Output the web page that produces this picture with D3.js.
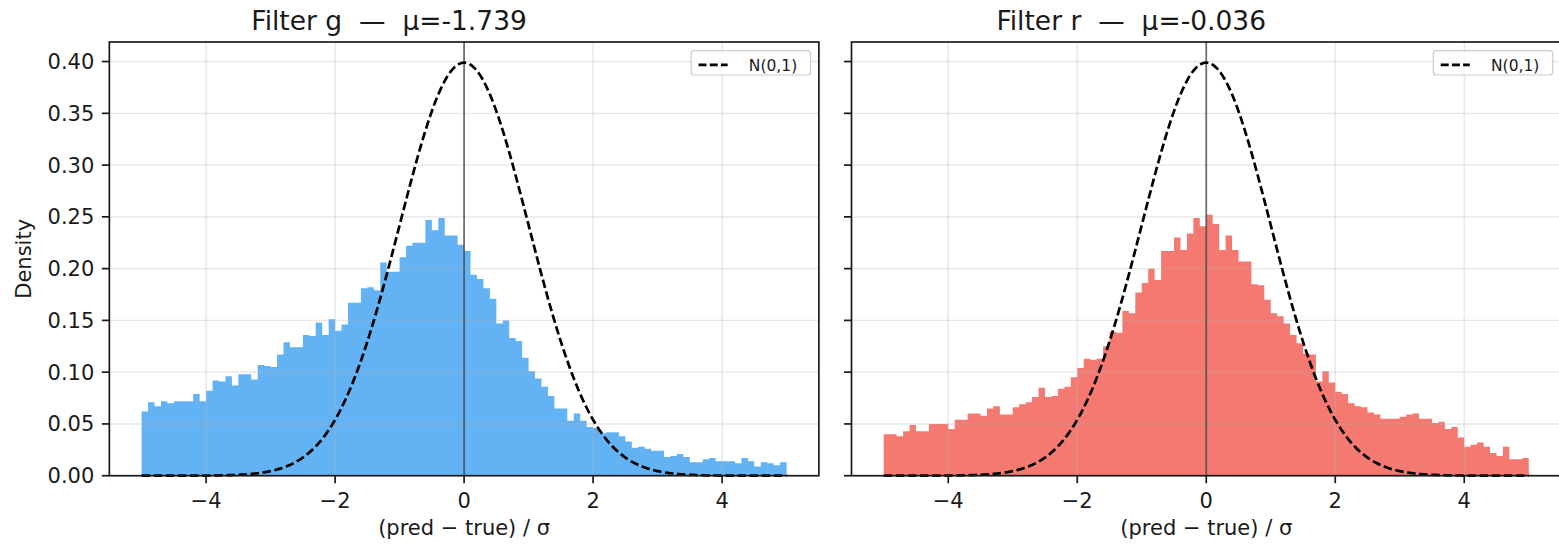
<!DOCTYPE html>
<html>
<head>
<meta charset="utf-8">
<script src="https://cdn.jsdelivr.net/npm/d3@7"></script>
<style>
  body { margin: 0; background: #fff; }
  svg { display: block; }
  text { font-family: "DejaVu Sans", sans-serif; fill: #1a1a1a; }
</style>
</head>
<body>
<svg id="chart" width="1559" height="544"></svg>
<script>
// Normalised residual histograms, one panel per filter
const filterNames = ["g", "r"];
const filterMeans = [-1.739, -0.036];
const filterColors = ["#63b3f4", "#f47a71"];

// 100 bins of width 0.1 spanning [-5, 5]
const binCount = 100;
const binLo = -5, binHi = 5;

const densityG = [
  0.062, 0.071, 0.067, 0.072, 0.070, 0.072, 0.072, 0.072, 0.079, 0.072,
  0.082, 0.092, 0.091, 0.096, 0.087, 0.098, 0.098, 0.093, 0.107, 0.106,
  0.105, 0.117, 0.129, 0.124, 0.124, 0.136, 0.135, 0.148, 0.136, 0.151,
  0.140, 0.146, 0.167, 0.167, 0.181, 0.182, 0.179, 0.206, 0.197, 0.197,
  0.211, 0.222, 0.225, 0.225, 0.247, 0.237, 0.249, 0.232, 0.232, 0.223,
  0.217, 0.194, 0.190, 0.181, 0.171, 0.147, 0.150, 0.133, 0.130, 0.114,
  0.101, 0.094, 0.086, 0.077, 0.065, 0.065, 0.053, 0.060, 0.053, 0.047,
  0.046, 0.041, 0.042, 0.042, 0.038, 0.033, 0.027, 0.028, 0.026, 0.024,
  0.024, 0.018, 0.019, 0.021, 0.018, 0.013, 0.013, 0.016, 0.017, 0.014,
  0.014, 0.014, 0.012, 0.017, 0.014, 0.009, 0.013, 0.012, 0.010, 0.013
];

const densityR = [
  0.040, 0.040, 0.038, 0.043, 0.049, 0.043, 0.043, 0.050, 0.050, 0.050,
  0.045, 0.054, 0.054, 0.060, 0.060, 0.058, 0.065, 0.067, 0.059, 0.059,
  0.066, 0.069, 0.071, 0.076, 0.085, 0.076, 0.077, 0.084, 0.086, 0.095,
  0.104, 0.113, 0.112, 0.113, 0.125, 0.139, 0.138, 0.159, 0.157, 0.177,
  0.186, 0.200, 0.189, 0.217, 0.217, 0.230, 0.218, 0.234, 0.249, 0.241,
  0.252, 0.243, 0.218, 0.232, 0.218, 0.207, 0.207, 0.185, 0.184, 0.170,
  0.157, 0.154, 0.147, 0.136, 0.128, 0.118, 0.117, 0.091, 0.101, 0.090,
  0.081, 0.079, 0.070, 0.067, 0.066, 0.061, 0.059, 0.055, 0.055, 0.055,
  0.057, 0.059, 0.060, 0.055, 0.055, 0.051, 0.052, 0.045, 0.047, 0.037,
  0.028, 0.030, 0.032, 0.028, 0.022, 0.019, 0.028, 0.016, 0.016, 0.017
];

const xTicks = [-4, -2, 0, 2, 4];
const xTickLabels = ["\u22124", "\u22122", "0", "2", "4"];
const yTicks = [0, 0.05, 0.10, 0.15, 0.20, 0.25, 0.30, 0.35, 0.40];
const yTickLabels = ["0.00", "0.05", "0.10", "0.15", "0.20", "0.25", "0.30", "0.35", "0.40"];

const xLabel = "(pred \u2212 true) / \u03c3";
const yLabel = "Density";
const legendLabel = "N(0,1)";

// standard normal reference density
const normalPdf = x => Math.exp(-0.5 * x * x) / Math.sqrt(2 * Math.PI);

// ---- layout ----
const svg = d3.select("#chart");
svg.append("rect").attr("width", 1559).attr("height", 544).attr("fill", "#fff");

const plotTop = 42, plotBottom = 475.7;
const panels = [
  { left: 109.35, right: 818.85, data: densityG, showYLabels: true },
  { left: 851.5, right: 1561.0, data: densityR, showYLabels: false }
];

const yMax = normalPdf(0) * 1.05;
const y = d3.scaleLinear().domain([0, yMax]).range([plotBottom, plotTop]);

const binEdges = d3.range(binCount + 1).map(i => binLo + (binHi - binLo) * i / binCount);
const curveXs = d3.range(0, 501).map(i => binLo + (binHi - binLo) * i / 500);

const tickLen = 7.5, tickPad = 7.5;
const ink = "#1a1a1a";

panels.forEach((p, k) => {
  const x = d3.scaleLinear().domain([-5.5, 5.5]).range([p.left, p.right]);
  const g = svg.append("g");

  // histogram drawn as one stepped, filled outline
  const steps = p.data.map((v, i) => ({ x: binEdges[i], v }));
  steps.push({ x: binEdges[binCount], v: p.data[binCount - 1] });
  const area = d3.area()
    .x(d => x(d.x))
    .y0(y(0))
    .y1(d => y(d.v))
    .curve(d3.curveStepAfter);
  g.append("path")
    .datum(steps)
    .attr("d", area)
    .attr("fill", filterColors[k]);

  // grid lines
  const grid = g.append("g")
    .attr("stroke", "#b0b0b0")
    .attr("stroke-opacity", 0.32)
    .attr("stroke-width", 1.4);
  grid.selectAll("line.gx").data(xTicks).join("line")
    .attr("x1", d => x(d)).attr("x2", d => x(d))
    .attr("y1", plotTop).attr("y2", plotBottom);
  grid.selectAll("line.gy").data(yTicks).join("line")
    .attr("x1", p.left).attr("x2", p.right)
    .attr("y1", d => y(d)).attr("y2", d => y(d));

  // zero reference line
  g.append("line")
    .attr("x1", x(0)).attr("x2", x(0))
    .attr("y1", plotTop).attr("y2", plotBottom)
    .attr("stroke", "#3a3a3a").attr("stroke-opacity", 0.7)
    .attr("stroke-width", 1.8);

  // N(0,1) curve
  const line = d3.line().x(d => x(d)).y(d => y(normalPdf(d)));
  g.append("path")
    .datum(curveXs)
    .attr("d", line)
    .attr("fill", "none")
    .attr("stroke", "#000")
    .attr("stroke-width", 2.7)
    .attr("stroke-dasharray", "8.5,3.6");

  // spines
  g.append("rect")
    .attr("x", p.left).attr("y", plotTop)
    .attr("width", p.right - p.left).attr("height", plotBottom - plotTop)
    .attr("fill", "none").attr("stroke", ink).attr("stroke-width", 1.7);

  // x ticks
  const xt = g.append("g");
  xt.selectAll("line").data(xTicks).join("line")
    .attr("x1", d => x(d)).attr("x2", d => x(d))
    .attr("y1", plotBottom).attr("y2", plotBottom + tickLen)
    .attr("stroke", ink).attr("stroke-width", 1.7);
  xt.selectAll("text").data(xTicks).join("text")
    .attr("x", d => x(d)).attr("y", 508)
    .attr("text-anchor", "middle")
    .attr("font-size", 21)
    .text((d, i) => xTickLabels[i]);

  // y ticks
  const yt = g.append("g");
  yt.selectAll("line").data(yTicks).join("line")
    .attr("x1", p.left - tickLen).attr("x2", p.left)
    .attr("y1", d => y(d)).attr("y2", d => y(d))
    .attr("stroke", ink).attr("stroke-width", 1.7);
  if (p.showYLabels) {
    yt.selectAll("text").data(yTicks).join("text")
      .attr("x", p.left - tickLen - tickPad).attr("y", d => y(d))
      .attr("dy", "0.36em")
      .attr("text-anchor", "end")
      .attr("font-size", 21)
      .text((d, i) => yTickLabels[i]);
    g.append("text")
      .attr("transform", `translate(31,${(plotTop + plotBottom) / 2}) rotate(-90)`)
      .attr("text-anchor", "middle")
      .attr("font-size", 21)
      .text(yLabel);
  }

  // axis label
  g.append("text")
    .attr("x", (p.left + p.right) / 2).attr("y", 535)
    .attr("text-anchor", "middle")
    .attr("font-size", 21)
    .text(xLabel);

  // title
  g.append("text")
    .attr("x", (p.left + p.right) / 2 - 75).attr("y", 29.5)
    .attr("text-anchor", "middle")
    .attr("font-size", 26.5)
    .attr("xml:space", "preserve")
    .text(`Filter ${filterNames[k]}  \u2014  \u03bc=${filterMeans[k].toFixed(3)}`);

  // legend
  const lgW = 119.4, lgH = 24.3;
  const lgX = p.right - 8.3 - lgW, lgY = plotTop + 8.7;
  const lg = g.append("g");
  lg.append("rect")
    .attr("x", lgX).attr("y", lgY).attr("width", lgW).attr("height", lgH)
    .attr("rx", 3).attr("fill", "#fff").attr("fill-opacity", 0.8)
    .attr("stroke", "#cccccc").attr("stroke-width", 1.2);
  lg.append("line")
    .attr("x1", lgX + 7.4).attr("x2", lgX + 36.5)
    .attr("y1", lgY + lgH / 2 + 2).attr("y2", lgY + lgH / 2 + 2)
    .attr("stroke", "#000").attr("stroke-width", 2.6)
    .attr("stroke-dasharray", "8,3.2");
  lg.append("text")
    .attr("x", lgX + 57.7).attr("y", lgY + 20)
    .attr("font-size", 15.5)
    .text(legendLabel);
});
</script>
</body>
</html>
